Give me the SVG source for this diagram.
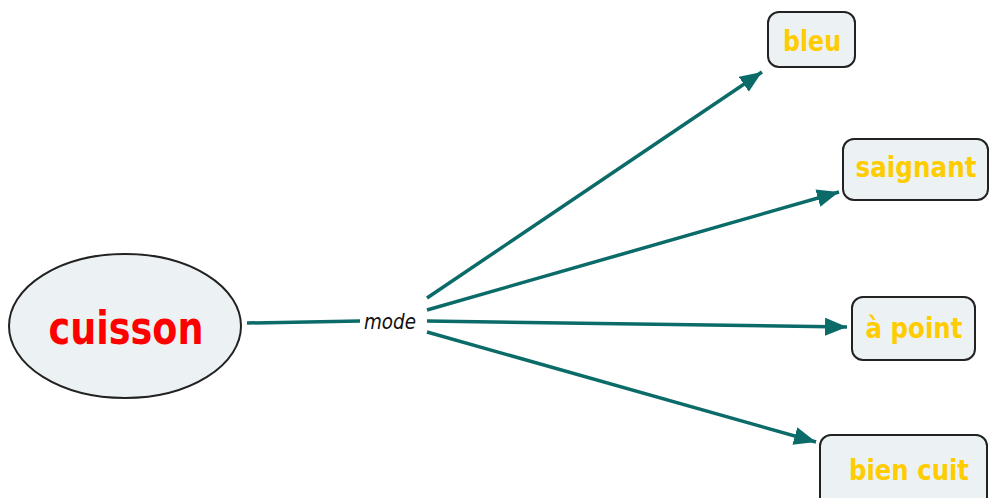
<svg xmlns="http://www.w3.org/2000/svg" width="989" height="498" viewBox="0 0 989 498">
<defs>
<style>
.node{fill:#ecf2f4;stroke:#222;stroke-width:2}
.lbl{font-family:"DejaVu Sans",Verdana,sans-serif;font-weight:bold;fill:#ffcc00;font-size:29px;text-anchor:middle}
.conn{stroke:#0a6b68;stroke-width:3.5;fill:none}
</style>
<marker id="arr" markerUnits="userSpaceOnUse" markerWidth="24" markerHeight="20" refX="22" refY="9" orient="auto">
<path d="M0,0 L22,9 L0,18 z" fill="#0a6b68"/>
</marker>
</defs>
<rect width="989" height="498" fill="#fff"/>
<g id="connectors">
<line class="conn" x1="247" y1="323" x2="360" y2="321"/>
<text x="390" y="329" font-family="'DejaVu Sans',Verdana,sans-serif" font-style="italic" font-size="21" text-anchor="middle" fill="#111" textLength="52" lengthAdjust="spacingAndGlyphs">mode</text>
<line class="conn" x1="427" y1="298" x2="762" y2="72" marker-end="url(#arr)"/>
<line class="conn" x1="427" y1="310" x2="839" y2="192" marker-end="url(#arr)"/>
<line class="conn" x1="427" y1="321" x2="847" y2="327" marker-end="url(#arr)"/>
<line class="conn" x1="427" y1="332" x2="816" y2="442" marker-end="url(#arr)"/>
</g>
<g id="cuisson">
<ellipse class="node" cx="125" cy="326" rx="116" ry="72"/>
<text x="126" y="344" font-family="'DejaVu Sans',Verdana,sans-serif" font-weight="bold" font-size="46" fill="#ff0000" text-anchor="middle" textLength="155" lengthAdjust="spacingAndGlyphs">cuisson</text>
</g>
<g id="bleu">
<rect class="node" x="768" y="12" width="87" height="55" rx="11"/>
<text class="lbl" x="812" y="51" textLength="58" lengthAdjust="spacingAndGlyphs">bleu</text>
</g>
<g id="saignant">
<rect class="node" x="843" y="139" width="145" height="61" rx="11"/>
<text class="lbl" x="916" y="177" textLength="121" lengthAdjust="spacingAndGlyphs">saignant</text>
</g>
<g id="apoint">
<rect class="node" x="852" y="297" width="123" height="63" rx="11"/>
<text class="lbl" x="914" y="338" textLength="97" lengthAdjust="spacingAndGlyphs">à point</text>
</g>
<g id="biencuit">
<rect class="node" x="820" y="435" width="167" height="75" rx="11"/>
<text class="lbl" x="909" y="480" textLength="120" lengthAdjust="spacingAndGlyphs">bien cuit</text>
</g>
</svg>
